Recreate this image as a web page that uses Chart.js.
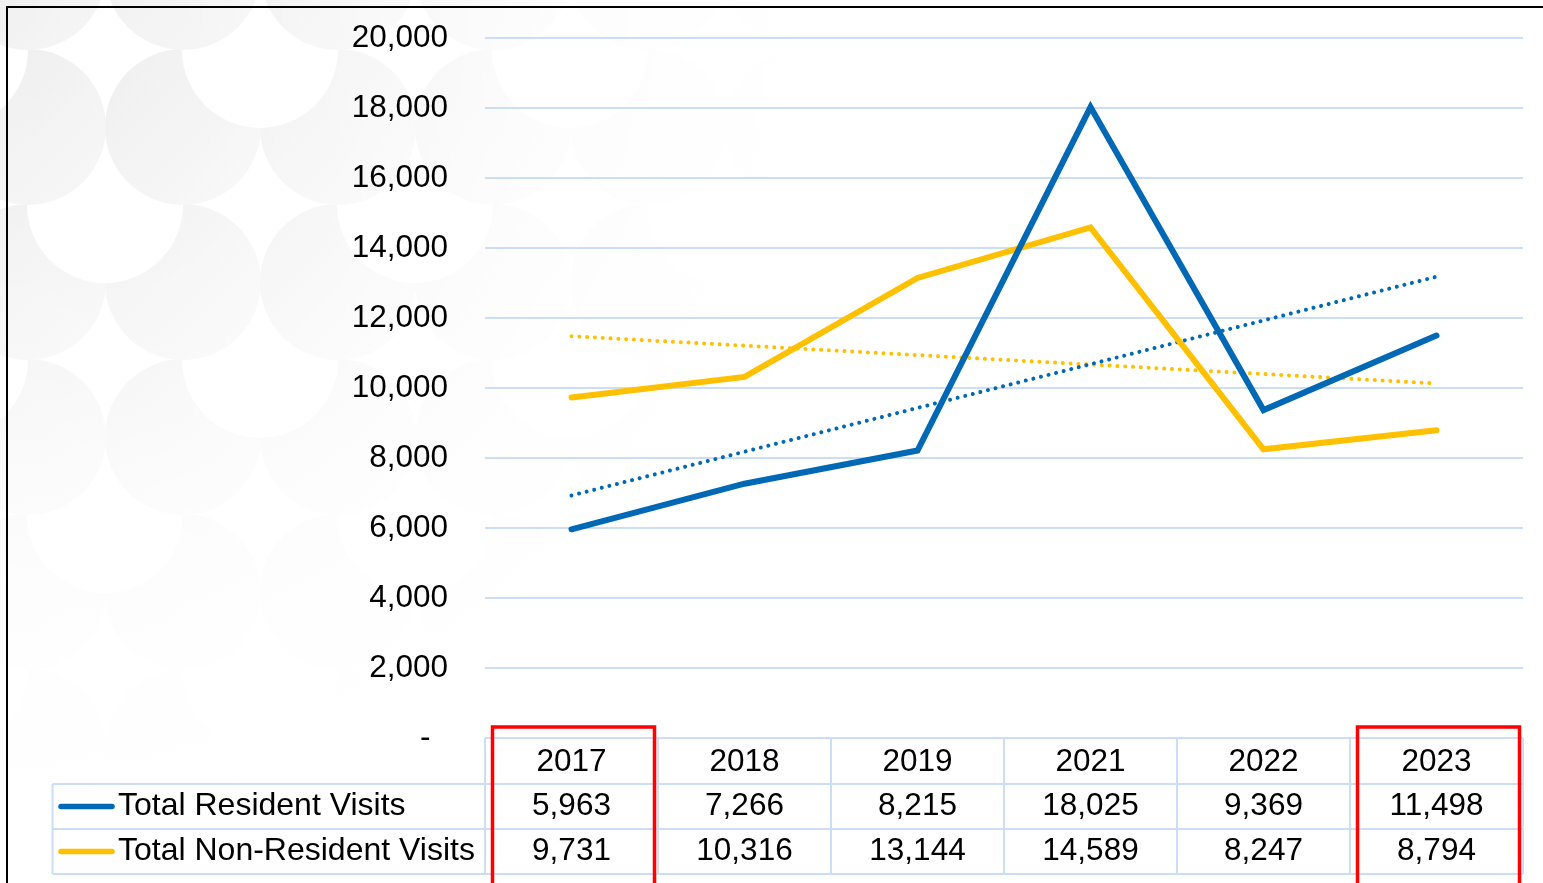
<!DOCTYPE html>
<html>
<head>
<meta charset="utf-8">
<script src="https://cdn.jsdelivr.net/npm/chart.js@4/dist/chart.umd.min.js"></script>
<style>
  html, body { margin: 0; padding: 0; background: #ffffff; overflow: hidden; }
  #wrap { width: 1543px; height: 883px; position: relative; }
</style>
</head>
<body>
<div id="wrap"><canvas id="c" width="1543" height="883"></canvas></div>
<script>
const years = ['2017', '2018', '2019', '2021', '2022', '2023'];
const residentVisits = [5963, 7266, 8215, 18025, 9369, 11498];
const nonResidentVisits = [9731, 10316, 13144, 14589, 8247, 8794];
const seriesNames = ['Total Resident Visits', 'Total Non-Resident Visits'];
const trendYears = ['2017', '2023'];
const residentTrend = [6930, 13180];
const nonResidentTrend = [11480, 10130];
const yTicks = [0, 2000, 4000, 6000, 8000, 10000, 12000, 14000, 16000, 18000, 20000];
const highlightYears = ['2017', '2023'];

const BLUE = '#0068B4';
const GOLD = '#FFC000';
const GRID = '#CCDDF8';
const FONT = '"Liberation Sans", Arial, sans-serif';
const FS = 31.5;

const bgPlugin = {
  id: 'bg',
  beforeDraw(chart) {
    const ctx = chart.ctx;
    const W = chart.width, H = chart.height;
    ctx.save();
    ctx.fillStyle = '#ffffff';
    ctx.fillRect(0, 0, W, H);
    const r = 78, s = 155;
    const items = [];
    for (let j = -1; j < 7; j++) {
      for (let i = -1; i < 7; i++) {
        items.push({ x: 28 + s * i, y: -28 + s * j, key: 2 * j, gray: true });
        if (((i + j) % 2 + 2) % 2 === 1) {
          items.push({ x: 105 + s * i, y: 50 + s * j, key: 2 * j + 1, gray: false });
        }
      }
    }
    items.sort((a, b) => b.key - a.key);
    items.forEach(it => {
      ctx.beginPath();
      ctx.arc(it.x, it.y, r, 0, Math.PI * 2);
      if (it.gray) {
        const g = ctx.createLinearGradient(it.x - r, it.y - r, it.x + r, it.y + r);
        g.addColorStop(0, '#ededed');
        g.addColorStop(1, '#f5f5f5');
        ctx.fillStyle = g;
      } else {
        ctx.fillStyle = '#ffffff';
      }
      ctx.fill();
    });
    const fg = ctx.createRadialGradient(0, 0, 0, 0, 0, 820);
    fg.addColorStop(0, 'rgba(255,255,255,0)');
    fg.addColorStop(0.3, 'rgba(255,255,255,0.25)');
    fg.addColorStop(0.7, 'rgba(255,255,255,0.85)');
    fg.addColorStop(1, 'rgba(255,255,255,1)');
    ctx.fillStyle = fg;
    ctx.fillRect(0, 0, W, H);
    ctx.restore();
  }
};

const tablePlugin = {
  id: 'dataTable',
  afterDraw(chart) {
    const ctx = chart.ctx;
    const xs = chart.scales.x;
    const ys = chart.scales.y;
    const n = years.length;
    const step = xs.getPixelForValue(1) - xs.getPixelForValue(0);
    const left = xs.getPixelForValue(0) - step / 2;
    const right = xs.getPixelForValue(n - 1) + step / 2;
    const top = ys.getPixelForValue(0);
    const rowH = 45;
    const r1 = top + 46, r2 = r1 + rowH, r3 = r2 + rowH;
    const labelLeft = 52.5;
    ctx.save();
    ctx.strokeStyle = GRID;
    ctx.lineWidth = 2;
    ctx.beginPath();
    ctx.moveTo(left, top); ctx.lineTo(right, top);
    ctx.moveTo(labelLeft, r1); ctx.lineTo(right, r1);
    ctx.moveTo(labelLeft, r2); ctx.lineTo(right, r2);
    ctx.moveTo(labelLeft, r3); ctx.lineTo(right, r3);
    ctx.moveTo(labelLeft, r1); ctx.lineTo(labelLeft, r3);
    for (let i = 0; i <= n; i++) {
      const x = left + i * step;
      ctx.moveTo(x, top); ctx.lineTo(x, r3);
    }
    ctx.stroke();

    ctx.fillStyle = '#000';
    ctx.font = '31.5px ' + FONT;
    ctx.textAlign = 'center';
    ctx.textBaseline = 'middle';
    const fmt = v => v.toLocaleString('en-US');
    years.forEach((y, i) => {
      const cx = xs.getPixelForValue(i);
      ctx.fillText(y, cx, (top + r1) / 2 + 1);
      ctx.fillText(fmt(residentVisits[i]), cx, (r1 + r2) / 2);
      ctx.fillText(fmt(nonResidentVisits[i]), cx, (r2 + r3) / 2);
    });
    ctx.textAlign = 'left';
    ctx.lineCap = 'round';
    ctx.lineWidth = 5.5;
    ctx.font = '32px ' + FONT;
    [[BLUE, (r1 + r2) / 2], [GOLD, (r2 + r3) / 2]].forEach((d, k) => {
      ctx.strokeStyle = d[0];
      ctx.beginPath();
      ctx.moveTo(61, d[1]); ctx.lineTo(112, d[1]);
      ctx.stroke();
      ctx.fillText(seriesNames[k], 118, d[1]);
    });

    ctx.strokeStyle = '#FF0000';
    ctx.lineWidth = 3.5;
    ctx.lineCap = 'butt';
    highlightYears.forEach(y => {
      const i = years.indexOf(y);
      const cx = xs.getPixelForValue(i);
      ctx.beginPath();
      ctx.moveTo(cx - 79, 900);
      ctx.lineTo(cx - 79, top - 11);
      ctx.lineTo(cx + 83, top - 11);
      ctx.lineTo(cx + 83, 900);
      ctx.stroke();
    });

    ctx.strokeStyle = '#000';
    ctx.lineWidth = 2;
    ctx.beginPath();
    ctx.moveTo(7, 900); ctx.lineTo(7, 7); ctx.lineTo(1600, 7);
    ctx.stroke();
    ctx.restore();
  }
};

new Chart(document.getElementById('c'), {
  type: 'line',
  data: {
    labels: years,
    datasets: [
      { label: seriesNames[0], data: residentVisits, borderColor: BLUE, borderWidth: 6, pointRadius: 0, tension: 0, borderCapStyle: 'round', borderJoinStyle: 'miter' },
      { label: seriesNames[1], data: nonResidentVisits, borderColor: GOLD, borderWidth: 6, pointRadius: 0, tension: 0, borderCapStyle: 'round', borderJoinStyle: 'miter' },
      { label: 'Linear (' + seriesNames[0] + ')', data: trendYears.map((y, i) => ({ x: y, y: residentTrend[i] })), borderColor: BLUE, borderWidth: 4, borderDash: [0.01, 7.8], borderCapStyle: 'round', pointRadius: 0, tension: 0 },
      { label: 'Linear (' + seriesNames[1] + ')', data: trendYears.map((y, i) => ({ x: y, y: nonResidentTrend[i] })), borderColor: GOLD, borderWidth: 4, borderDash: [0.01, 7.8], borderCapStyle: 'round', pointRadius: 0, tension: 0 }
    ]
  },
  options: {
    responsive: false,
    animation: false,
    events: [],
    layout: { padding: { left: 0, top: 38, right: 20, bottom: 145 } },
    plugins: { legend: { display: false }, tooltip: { enabled: false } },
    scales: {
      x: { type: 'category', display: false, offset: true },
      y: {
        min: 0, max: 20000,
        afterFit(scale) { scale.width = 485; scale.paddingTop = 0; scale.paddingBottom = 0; },
        afterBuildTicks(scale) { scale.ticks = yTicks.map(v => ({ value: v })); },
        border: { display: false },
        grid: { color: GRID, lineWidth: 2, drawTicks: false },
        ticks: {
          padding: 37,
          color: '#000',
          font: { family: FONT, size: FS },
          callback: v => v === 0 ? '-  ' : v.toLocaleString('en-US')
        }
      }
    }
  },
  plugins: [bgPlugin, tablePlugin]
});
</script>
</body>
</html>
